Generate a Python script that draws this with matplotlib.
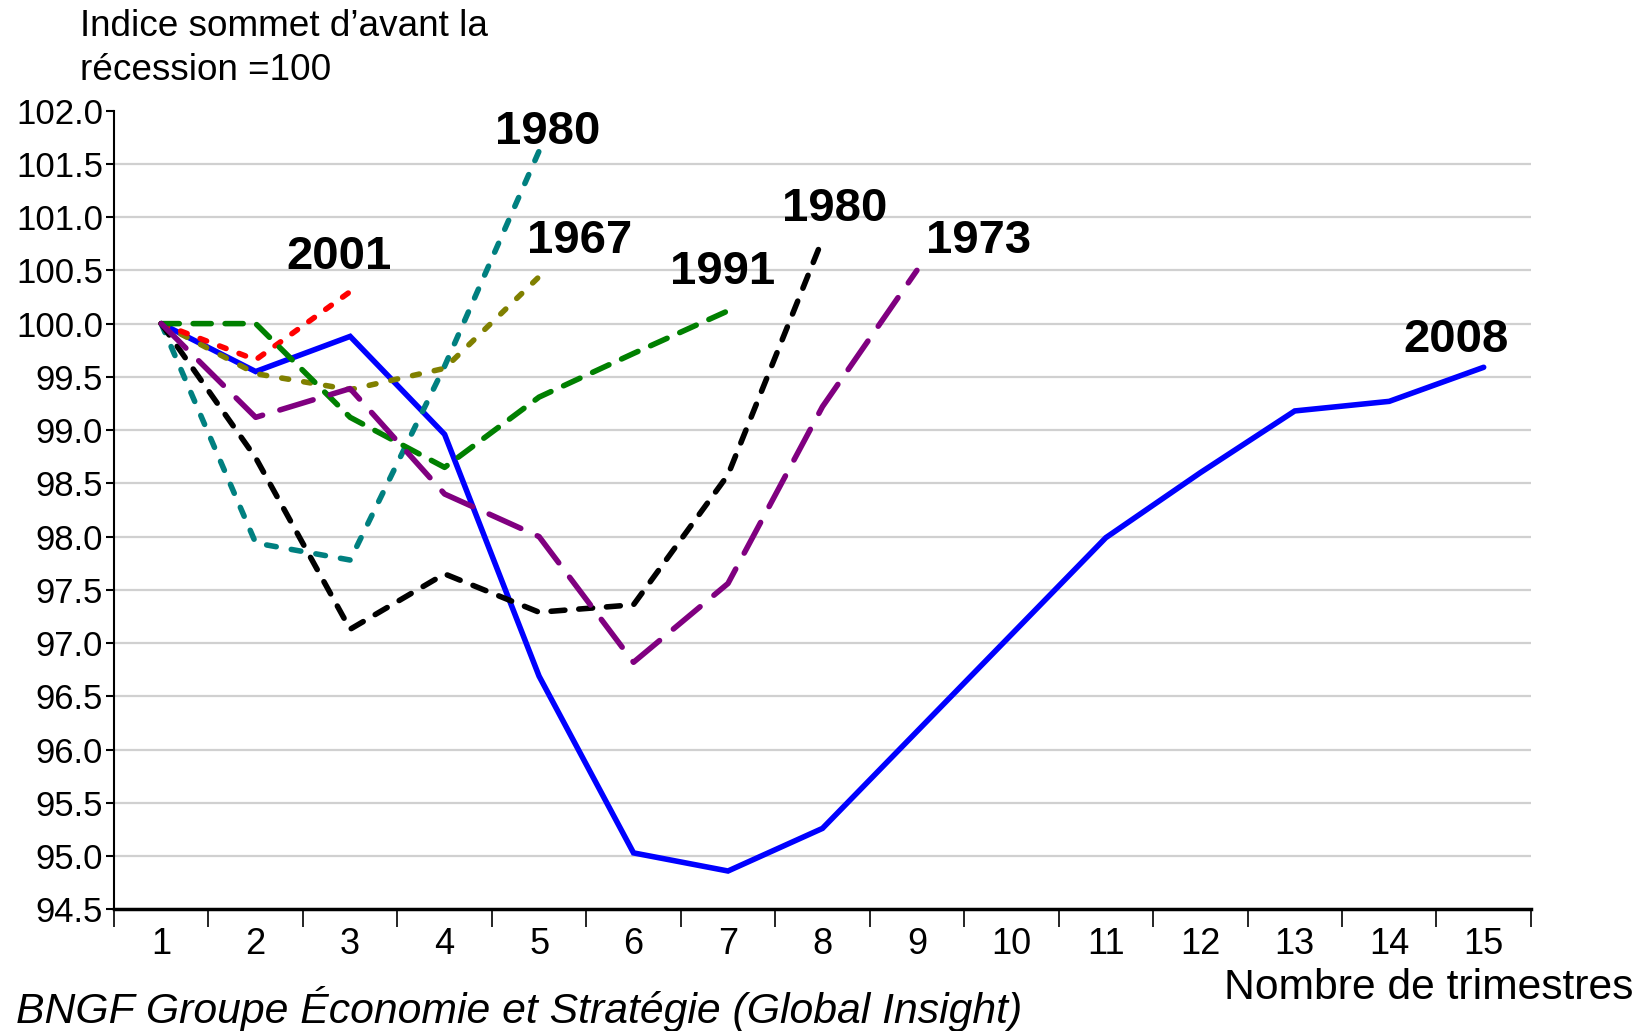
import matplotlib
matplotlib.use("Agg")
import matplotlib.pyplot as plt
import numpy as np

plt.rcParams['font.family'] = ['Liberation Sans', 'DejaVu Sans']
plt.rcParams['lines.scale_dashes'] = False

quarters = list(range(1, 16))

s2008 = [100.0, 99.55, 99.88, 98.96, 96.69, 95.03, 94.86, 95.26, 96.17, 97.08, 97.99, 98.60, 99.18, 99.27, 99.59]
s1980a = [100.0, 97.94, 97.78, 99.60, 101.62]
s1967 = [100.0, 99.53, 99.38, 99.58, 100.44]
s2001 = [100.0, 99.66, 100.30]
s1991 = [100.0, 100.0, 99.12, 98.65, 99.31, 99.72, 100.12]
s1980b = [100.0, 98.74, 97.13, 97.65, 97.29, 97.36, 98.58, 100.79]
s1973 = [100.0, 99.12, 99.39, 98.40, 98.00, 96.82, 97.56, 99.22, 100.50]

labels = ["2008", "1980", "1967", "2001", "1991", "1980", "1973"]
label_pos = [(14.71, 99.85), (5.09, 101.80), (5.43, 100.78), (2.88, 100.63),
             (6.94, 100.48), (8.13, 101.08), (9.65, 100.78)]

y_ticks = np.arange(94.5, 102.01, 0.5)

fig = plt.figure(figsize=(16.52, 10.31), dpi=100)
ax = fig.add_axes([0.069, 0.118, 0.8577, 0.7747])

ax.set_xlim(0.5, 15.5)
ax.set_ylim(94.5, 102.0)

for y in y_ticks[1:-1]:
    ax.axhline(y, color='#D0D0D0', lw=1.6, zorder=0)

LW = 4.0
series = [
    (s2008, '#0000FF', None),
    (s1980a, '#008080', (0, (7, 11))),
    (s1967, '#808000', (0, (5, 11))),
    (s2001, '#FF0000', (0, (5, 10))),
    (s1991, '#008000', (0, (13, 10))),
    (s1980b, '#000000', (0, (10, 10))),
    (s1973, '#800080', (0, (25, 13))),
]
for vals, col, ls in series:
    x = quarters[:len(vals)]
    if ls is None:
        ax.plot(x, vals, color=col, lw=LW, solid_joinstyle='miter', solid_capstyle='round', zorder=3)
    else:
        ax.plot(x, vals, color=col, lw=LW, linestyle=ls, dash_capstyle='round', zorder=3)

for lab, (lx, ly) in zip(labels, label_pos):
    ax.text(lx, ly, lab, fontsize=34, fontweight='bold', ha='center', va='center', zorder=5)

ax.spines['top'].set_visible(False)
ax.spines['right'].set_visible(False)
ax.spines['left'].set_linewidth(1.5)
ax.spines['bottom'].set_linewidth(2.5)

ax.set_yticks(y_ticks)
ax.set_yticklabels([f"{v:.1f}" for v in y_ticks], fontsize=25)
ax.tick_params(axis='y', direction='out', length=6, width=1.5, pad=2)

ax.set_xticks(quarters)
ax.set_xticklabels([str(q) for q in quarters], fontsize=26)
ax.set_xticks(np.arange(0.5, 15.6, 1.0), minor=True)
ax.tick_params(axis='x', which='major', length=0, pad=13)
ax.tick_params(axis='x', which='minor', direction='out', length=13, width=1.2)

fig.text(80 / 1652, 1 - 27 / 1031, "Indice sommet d\u2019avant la", fontsize=26.6, ha='left', va='center')
fig.text(80 / 1652, 1 - 70 / 1031, "r\u00e9cession =100", fontsize=26.6, ha='left', va='center')
fig.text(1633 / 1652, 1 - 988 / 1031, "Nombre de trimestres", fontsize=30.7, ha='right', va='center')
fig.text(16 / 1652, 1 - 1009 / 1031, "BNGF Groupe \u00c9conomie et Strat\u00e9gie (Global Insight)",
         fontsize=30.8, style='italic', ha='left', va='center')

fig.savefig("out.png", dpi=100)
